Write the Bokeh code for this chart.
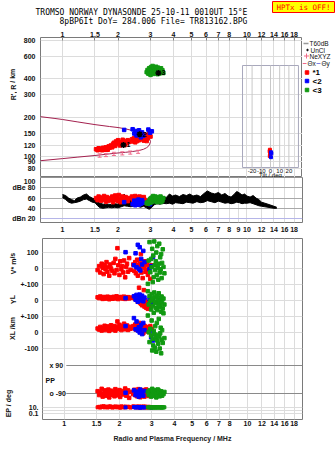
from bokeh.plotting import figure
from bokeh.layouts import column, row
from bokeh.models import Range1d, FixedTicker, LogScale, LinearScale
from bokeh.embed import file_html
from bokeh.resources import INLINE
from bokeh.core.properties import value

# ---------------- data ----------------
freq_ticks_top = [1, 1.5, 2, 3, 4, 5, 6, 7, 8, 10, 12, 14, 16, 18]
freq_labels_top = ["1", "1.5", "2", "3", "4", "5", "6", "7", "8", "10", "12", "14", "16", "18"]
freq_ticks_mid = [1, 1.5, 2, 3, 4, 5, 6, 7, 8, 9, 10, 12, 14, 16, 18]
freq_labels_mid = ["1", "1.5", "2", "3", "4", "5", "6", "7", "8", "9", "10", "12", "14", "16", "18"]
range_ticks = [80, 90, 100, 120, 150, 200, 300, 400, 600, 800]
range_labels = ["80", "90", "100", "120", "150", "200", "300", "400", "600", "800"]
dbe_ticks = [20, 40, 60, 80, 100]
dbe_labels = ["dBn 20", "40", "60", "dBe 80", "100"]
tilt_ticks = [-20, -10, 0, 10, 20]
tilt_labels = ["-20", "-10", "0", "10", "20"]

title_1 = "TROMSO NORWAY   DYNASONDE 25-10-11 0010UT 15\u00b0E"
title_2 = "8pBP6It DoY= 284.006 File= TR813162.BPG"
warning = "HPTx is OFF!"

# model profile (virtual / real height)
upper_f = [0.76, 0.9, 1.0, 1.2, 1.5, 1.8, 2.0, 2.2, 2.4, 2.6, 2.75, 2.85, 2.92, 2.97, 3.0]
upper_h = [203, 197, 193, 185, 176, 170, 167, 163, 158, 153, 148, 143, 138, 134, 130]
lower_f = [0.76, 1.0, 1.2, 1.5, 1.8, 2.0, 2.2, 2.4, 2.6, 2.75, 2.85, 2.92, 2.97, 3.0]
lower_h = [92, 95.5, 98, 101, 104, 105.7, 107, 108.5, 110.5, 113, 116, 119, 124, 130]

# NeXYZ error bars
ne_f = [1.59, 1.72, 1.90, 2.11, 2.33, 2.57]
ne_lo = [98, 99, 101, 102, 103.5, 105]
ne_hi = [104, 105, 107, 108, 109.5, 111]

# echo centroids
cen_f = [2.14, 2.62, 3.31]
cen_h = [122, 148, 446]
cen_lbl = ["1", "2", "3"]

red_f = [1.52, 1.55, 1.57, 1.60, 1.62, 1.64, 1.66, 1.68, 1.70, 1.72,
         1.74, 1.76, 1.78, 1.80, 1.83, 1.86, 1.88, 1.90, 1.93, 1.95,
         1.97, 2.00, 2.02, 2.05, 2.07, 2.10, 2.12, 2.15, 2.18, 2.20,
         2.23, 2.26, 2.30, 2.38, 2.41, 2.44, 2.46, 2.48, 2.50, 2.52,
         2.54, 2.56, 2.58, 2.60, 2.62, 2.64, 2.66, 2.68, 2.70, 2.72,
         2.74, 2.76, 2.78, 2.80, 2.82, 2.84, 2.86, 2.90, 2.95, 3.00]
red_r = [113, 111, 115, 112, 114, 111, 116, 113, 112, 117,
         114, 112, 119, 116, 121, 117, 124, 127, 120, 130,
         124, 133, 127, 121, 129, 124, 134, 128, 122, 131,
         126, 133, 129, 135, 130, 138, 133, 128, 140, 135,
         131, 142, 137, 133, 144, 139, 135, 146, 141, 137,
         143, 132, 148, 139, 136, 145, 131, 138, 150, 142]
red_dbe = [60, 56, 63, 58, 55, 61, 57, 64, 59, 53,
           62, 58, 55, 60, 57, 63, 52, 59, 65, 56,
           61, 54, 66, 58, 52, 60, 63, 57, 55, 62,
           58, 54, 60, 63, 57, 61, 55, 64, 59, 53,
           62, 57, 60, 55, 63, 58, 52, 61, 56, 59,
           54, 62, 57, 52, 55, 53, 50, 51, 54, 52]
red_v = [-10, 15, -25, 30, 5, -35, 20, -5, 40, -20,
         10, -45, 25, 0, -15, 35, -30, 60, -10, 127,
         20, -40, 45, -5, 15, -25, 50, -55, 10, 30,
         -20, 65, -8, 25, -15, 40, -30, 10, 55, -45,
         20, -120, 35, 0, 90, -25, 15, -60, 30, -135,
         5, 45, -20, 25, -10, 35, -40, 15, -65, 20]
red_yl = [20, 15, 25, 18, 10, 22, 14, 19, 12, 24,
          17, 8, 21, 15, 11, 23, 18, 13, 26, 16,
          9, 20, 14, 22, 17, 12, 24, 10, 19, 15,
          21, 13, 18, 16, 23, 10, 27, 5, 19, -8,
          15, 30, -12, 20, -20, 8, -30, 12, -25, -5,
          -38, 2, -15, -45, -10, -28, -52, -20, -35, -12]
red_xl = [25, 18, 35, 12, 30, 20, 42, 15, 28, 38,
          22, 10, 33, 45, 18, 27, 40, 12, 35, 69,
          22, 48, 30, 15, 38, 25, 55, 20, 32, 44,
          16, 36, 24, 40, 28, 50, 18, 35, 45, 22,
          30, 60, 26, 12, 38, 48, 20, 33, -5, 28,
          42, 15, 25, 35, 8, 30, 18, 2, 40, 22]
red_pp = [-75, -100, -85, -60, -110, -92, -70, -105, -80, -95,
          -65, -115, -88, -72, -98, -82, -108, -62, -90, -78,
          -102, -68, -112, -86, -74, -96, -84, -58, -104, -92,
          -70, -118, -80, -94, -66, -100, -86, -76, -108, -90,
          -62, -98, -82, -114, -72, -88, -104, -68, -92, -80,
          -110, -74, -96, -64, -100, -86, -78, -106, -90, -84]
red_ep = [12, 18, 9, 25, 14, 30, 11, 20, 16, 10,
          22, 13, 28, 15, 9, 19, 12, 24, 17, 11,
          21, 14, 8, 26, 13, 18, 10, 23, 15, 12,
          20, 16, 9, 27, 13, 17, 11, 22, 14, 19,
          10, 25, 12, 16, 9, 21, 13, 18, 11, 24,
          15, 10, 20, 12, 17, 9, 14, 19, 11, 13]

blue_f = [2.16, 2.40, 2.45, 2.48, 2.52, 2.55, 2.58, 2.60, 2.63, 2.66, 2.70, 2.74, 2.92, 2.98, 3.05]
blue_r = [160, 162, 150, 157, 145, 155, 149, 159, 147, 140, 153, 144, 161, 152, 156]
blue_dbe = [52, 48, 55, 46, 53, 50, 57, 47, 54, 49, 56, 51, 50, 48, 53]
blue_v = [102, 20, 95, 8, 148, -2, 133, -12, 60, 25, 110, 40, -5, 15, 70]
blue_yl = [15, 27, 5, 35, -8, 20, 37, 0, 12, 30, -5, 18, 8, -20, 10]
blue_xl = [40, 90, 20, 69, 12, 33, 0, 23, 48, -10, 60, 15, 5, -30, -50]
blue_pp = [-85, -70, -100, -92, -78, -110, -88, -65, -96, -82, -104, -74, -90, -80, -98]
blue_ep = [11, 14, 9, 16, 12, 10, 13, 8, 15, 11, 12, 10, 13, 9, 12]

green_f = [2.86, 2.89, 2.92, 2.95, 2.98, 3.00, 3.02, 3.04, 3.06, 3.08,
           3.10, 3.12, 3.14, 3.16, 3.18, 3.20, 3.22, 3.24, 3.26, 3.28,
           3.30, 3.32, 3.34, 3.36, 3.38, 3.40, 3.42, 3.45, 3.48, 3.52]
green_r = [452, 470, 440, 485, 460, 430, 495, 475, 448, 505,
           465, 438, 488, 458, 472, 445, 498, 462, 480, 436,
           490, 455, 470, 442, 478, 460, 485, 450, 468, 445]
green_dbe = [50, 52, 49, 55, 58, 51, 60, 56, 53, 62,
             64, 57, 61, 58, 63, 55, 60, 52, 58, 62,
             56, 59, 53, 60, 57, 63, 52, 58, 55, 60]
green_v = [-96, 50, 165, -23, 60, 8, 123, -85, 81, -54,
           169, 20, -10, 45, 100, -40, 140, 5, -70, 30,
           155, -25, 70, -5, 90, -60, 35, 120, 10, -30]
green_yl = [58, -25, 27, -4, -56, 40, 6, -35, 15, -77,
            50, -15, 22, -45, -8, 30, -60, 10, -20, 45,
            -40, 0, -30, 18, -70, 25, -10, -50, 12, -25]
green_xl = [106, 2, -60, 23, -19, 75, -112, -40, -81, 10,
            -8, -95, 40, -30, -120, 60, -50, -15, -70, 85,
            -25, -100, -5, 30, -130, -45, 15, -65, 120, -35]
green_pp = [-80, -100, -70, -95, -110, -85, -60, -98, -75, -105,
            -90, -68, -102, -82, -115, -78, -92, -64, -100, -88,
            -72, -108, -84, -96, -76, -90, -104, -86, -94, -80]
green_ep = [12, 10, 14, 11, 13, 9, 12, 15, 10, 11,
            13, 12, 9, 14, 11, 12, 10, 13, 11, 12,
            14, 10, 12, 11, 13, 9, 12, 11, 10, 12]

inset_red_tilt = [-0.6, -0.9, -0.4, -0.7]
inset_red_h = [112, 109, 104, 100]
inset_blue_tilt = [0.6, 0.9, 0.5]
inset_blue_h = [107, 105, 98]

# receiver amplitude trace (dBe)
trace_f = [1.00, 1.04, 1.08, 1.12, 1.16, 1.20, 1.25, 1.30, 1.35, 1.40, 1.45, 1.50,
           1.55, 1.60, 1.66, 1.72, 1.78, 1.85, 1.92, 2.00, 2.08, 2.16, 2.25, 2.35,
           2.45, 2.55, 2.65, 2.75, 2.85, 2.95, 3.05, 3.15, 3.25, 3.38, 3.50, 3.65,
           3.80, 3.95, 4.10, 4.30, 4.50, 4.70, 4.90, 5.10, 5.35, 5.60, 5.85, 6.10,
           6.40, 6.70, 7.00, 7.30, 7.60, 7.90, 8.20, 8.50, 8.80, 9.10, 9.40, 9.70,
           10.0, 10.4, 10.8, 11.2, 11.6, 12.0, 12.5, 13.0, 13.5, 14.0, 14.5]
trace_hi = [67, 65, 60, 57, 55, 60, 62, 66, 68, 63, 60, 58,
            52, 50, 48, 47, 48, 47, 49, 48, 55, 68, 58, 56,
            55, 57, 55, 56, 52, 51, 55, 60, 62, 60, 63, 61,
            68, 64, 66, 63, 67, 65, 68, 64, 66, 63, 69, 74,
            70, 68, 71, 66, 69, 64, 62, 67, 73, 70, 66, 68,
            64, 62, 65, 60, 57, 52, 50, 48, 46, 44, 42]
trace_lo = [61, 57, 52, 50, 51, 52, 54, 57, 58, 55, 52, 51,
            45, 41, 40, 41, 42, 41, 42, 41, 43, 45, 44, 43,
            45, 44, 42, 44, 41, 38, 42, 47, 49, 48, 50, 49,
            50, 48, 51, 50, 49, 52, 51, 50, 53, 51, 52, 55,
            53, 51, 54, 52, 50, 51, 49, 50, 52, 51, 49, 50,
            50, 51, 49, 47, 45, 44, 43, 42, 41, 40, 40]

# ---------------- styling helpers ----------------
FONT = "Liberation Sans"
RED, BLUE, GREEN = "#ff0000", "#0000ff", "#119911"
MAROON = "#a3204e"
PINK = "#f06a8a"
GRID = "#dcdcdc"
XR = Range1d(0.76, 20.0)
FW = 262
STRIP = 17
LEFT = 40 - STRIP


def base(w, h, yr, left, right, top, bottom, ylog, xloc, frame_h):
    p = figure(width=w, height=h, x_range=XR, y_range=yr, x_axis_type="log",
               y_axis_type="log" if ylog else "linear", x_axis_location=xloc,
               toolbar_location=None, output_backend="svg", title=None,
               min_border_left=left, min_border_right=right, min_border_top=top,
               min_border_bottom=bottom, background_fill_color="white",
               border_fill_color="white", outline_line_color="#7a7a7a")
    p.extra_x_ranges = {"px": Range1d(0, FW)}
    p.extra_x_scales = {"px": LinearScale()}
    p.extra_y_ranges = {"py": Range1d(frame_h, 0)}
    p.extra_y_scales = {"py": LinearScale()}
    return p


def pane(w, h, x0, x1, y_top, y_bot, top=0, bottom=0):
    # a blank plot whose frame is addressed in page pixel coordinates
    s = figure(width=w, height=h, x_range=Range1d(x0, x1), y_range=Range1d(y_bot, y_top),
               x_axis_location=None, y_axis_location=None, toolbar_location=None,
               output_backend="svg", title=None, min_border_left=0, min_border_right=0,
               min_border_top=top, min_border_bottom=bottom,
               outline_line_color=None, background_fill_color="white",
               border_fill_color="white")
    s.grid.visible = False
    return s


def style_axis(ax, ticks, labels, standoff, tick_in=0):
    ax.ticker = FixedTicker(ticks=ticks)
    ax.major_label_overrides = dict(zip(ticks, labels))
    ax.axis_line_color = None
    ax.major_tick_in = tick_in
    ax.major_tick_out = 0
    ax.major_tick_line_color = "#808080"
    ax.minor_tick_line_color = None
    ax.major_label_standoff = standoff
    ax.major_label_text_font = FONT
    ax.major_label_text_font_size = "7px"
    ax.major_label_text_font_style = "bold"
    ax.major_label_text_color = "#111111"


def txt(p, xs, ys, texts, size="7px", color="#111111", align="center",
        angle=0.0, style="bold", font=FONT, **kw):
    p.text(x=xs, y=ys, text=texts, text_font=value(font), text_font_size=size,
           text_color=color, text_align=align, text_baseline="middle",
           angle=angle, text_font_style=style, **kw)


# ---------------- header ----------------
hdr = pane(335, 26, 0, 335, 0, 26)
hdr.quad(left=272, right=334, top=1, bottom=12, fill_color="#ffff00", line_color="#ff0000")
txt(hdr, [35], [12], [title_1], size="8px", font="DejaVu Sans Mono", style="normal",
    color="black", align="left")
txt(hdr, [59], [20.5], [title_2], size="8px", font="DejaVu Sans Mono", style="normal",
    color="black", align="left")
txt(hdr, [303], [6.8], [warning], size="7.5px", font="DejaVu Sans Mono", style="normal",
    color="#ff0000")

# ---------------- panel 1 : range ----------------
p1 = base(LEFT + FW, 151, Range1d(68, 843), LEFT, 0, 11, 0, True, "above", 140)
p1.extra_x_ranges["tilt"] = Range1d(-250, 34.8)
p1.extra_x_scales["tilt"] = LinearScale()
style_axis(p1.xaxis[0], freq_ticks_top, freq_labels_top, 1, tick_in=3)
style_axis(p1.yaxis[0], range_ticks, range_labels, 5)
p1.xgrid.ticker = FixedTicker(ticks=freq_ticks_top)
p1.ygrid.ticker = FixedTicker(ticks=range_ticks)
p1.grid.grid_line_color = GRID

# inset tilt box
p1.quad(left=-30.4, right=30.4, top=28, bottom=130, x_range_name="tilt",
        y_range_name="py", fill_color=None, line_color="#a8a8bc", line_width=1)
p1.segment(x0=tilt_ticks, y0=[28] * 5, x1=tilt_ticks, y1=[130] * 5,
           x_range_name="tilt", y_range_name="py", line_color="#c8c8c8")
txt(p1, tilt_ticks, [133] * 5, tilt_labels, size="6px", style="normal",
    x_range_name="tilt", y_range_name="py")
txt(p1, [0], [137], ["Tilt / deg"], size="6px", style="normal",
    x_range_name="tilt", y_range_name="py")
p1.scatter(inset_red_tilt, inset_red_h, x_range_name="tilt", marker="square",
           size=3, color=RED)
p1.scatter(inset_blue_tilt, inset_blue_h, x_range_name="tilt", marker="square",
           size=3, color=BLUE)

p1.line(upper_f, upper_h, line_color=MAROON, line_width=1)
p1.line(lower_f, lower_h, line_color=MAROON, line_width=1)
p1.segment(x0=ne_f, y0=ne_lo, x1=ne_f, y1=ne_hi, line_color=PINK, line_width=1)
p1.scatter(ne_f, ne_lo, marker="dash", size=4, color=PINK)
p1.scatter(ne_f, ne_hi, marker="dash", size=4, color=PINK)
p1.scatter(red_f, red_r, marker="square", size=3.5, color=RED)
p1.scatter(blue_f, blue_r, marker="square", size=3.5, color=BLUE)
p1.scatter(green_f, green_r, marker="square", size=3.5, color=GREEN)
p1.scatter(cen_f, cen_h, marker="asterisk", size=6, line_color="black", line_width=1.5)
txt(p1, cen_f, cen_h, cen_lbl, size="7px", color="black", align="left", x_offset=3)

# left strip with rotated axis title (frame = page y 37..177)
s1 = pane(STRIP, 151, 0, STRIP, 37, 177, top=11)
txt(s1, [12.5], [84], ["R', R / km"], size="7px", angle=1.5708)

# legend pane on the right (frame = page x 302..335, y 37..177)
lg = pane(33, 151, 302, 335, 37, 177, top=11)
lg.segment(x0=[303], y0=[43], x1=[308], y1=[43], line_color="#999999", line_width=1.5)
lg.scatter([307], [49.5], marker="circle", size=1.5, color="black")
lg.scatter([306], [55.5], marker="cross", size=5, line_color=PINK, line_width=1)
lg.segment(x0=[302, 316], y0=[63, 63], x1=[306, 320], y1=[63, 63],
           line_color=[PINK, "#8080e0"], line_width=1)
lg.scatter([306.5, 306.5, 306.5], [72, 80.5, 89.5], marker="square",
           size=3.5, color=[RED, BLUE, GREEN])
txt(lg, [309, 310, 309, 307, 321], [43, 49.5, 55.5, 63, 63],
    ["T60dB", "UnCl", "NeXYZ", "\u0398x", "\u0398y"], size="6.5px",
    align="left", style="normal")
txt(lg, [312, 312, 312], [72, 80.5, 89.5], ["*1", "<2", "<3"],
    size="8px", align="left", color="black")

# ---------------- panel 2 : amplitude ----------------
p2 = base(335, 61, Range1d(12.2, 100.3), 40, 33, 0, 16, False, "below", 45)
style_axis(p2.xaxis[0], freq_ticks_mid, freq_labels_mid, 4)
style_axis(p2.yaxis[0], dbe_ticks, dbe_labels, 5)
p2.xgrid.ticker = FixedTicker(ticks=freq_ticks_mid)
p2.xgrid.grid_line_color = GRID
p2.ygrid.ticker = FixedTicker(ticks=[40, 60, 80, 100])
p2.ygrid.grid_line_color = "#a8a8a8"
p2.segment(x0=[0.76], y0=[20], x1=[20.0], y1=[20], line_color="#b4b4e8", line_width=1)
p2.varea(x=trace_f, y1=trace_lo, y2=trace_hi, fill_color="black")
p2.line(trace_f, trace_hi, line_color="black", line_width=1)
p2.line(trace_f, trace_lo, line_color="black", line_width=1)
p2.scatter(red_f, red_dbe, marker="square", size=3.5, color=RED)
p2.scatter(blue_f, blue_dbe, marker="square", size=3.5, color=BLUE)
p2.scatter(green_f, green_dbe, marker="square", size=3.5, color=GREEN)

# ---------------- panel 3 : doppler / position / polarisation ----------------
T3 = 238
p3 = base(LEFT + FW + 33, 213, Range1d(181, 0), LEFT, 33, 0, 32, False, "below", 181)
p3.extra_y_ranges.update({
    "v": Range1d(-943.75, 187.5),
    "yl": Range1d(-743.75, 387.5),
    "xl": Range1d(-543.75, 587.5),
    "pp": Range1d(-257.14, 906.43),
    "ep": Range1d(10 ** (-3.364), 10 ** 62.45),
})
p3.extra_y_scales.update({"v": LinearScale(), "yl": LinearScale(), "xl": LinearScale(),
                          "pp": LinearScale(), "ep": LogScale()})
style_axis(p3.xaxis[0], freq_ticks_top, freq_labels_top, 1)
p3.xaxis.axis_label = "Radio and Plasma Frequency / MHz"
p3.xaxis.axis_label_text_font = FONT
p3.xaxis.axis_label_text_font_size = "7px"
p3.xaxis.axis_label_text_font_style = "bold"
p3.xaxis.axis_label_text_color = "#222222"
p3.xaxis.axis_label_standoff = 6
left_ticks = [14, 30, 46, 62, 78, 94, 110, 169, 174.5]
left_labels = ["100", "0", "+-100", "0", "+-100", "0", "-100", "10.", "0.1"]
style_axis(p3.yaxis[0], left_ticks, left_labels, 4)
p3.xgrid.ticker = FixedTicker(ticks=freq_ticks_top)
p3.ygrid.ticker = FixedTicker(ticks=[14, 30, 46, 62, 78, 94, 110, 169, 172, 174.5])
p3.grid.grid_line_color = GRID
p3.segment(x0=[24, 24], y0=[127, 155], x1=[FW, FW], y1=[127, 155],
           x_range_name="px", y_range_name="py", line_color="#8a8a8a")

for fr, col, vv, yl, xl, pp, ep in [
        (red_f, RED, red_v, red_yl, red_xl, red_pp, red_ep),
        (blue_f, BLUE, blue_v, blue_yl, blue_xl, blue_pp, blue_ep),
        (green_f, GREEN, green_v, green_yl, green_xl, green_pp, green_ep)]:
    p3.scatter(fr, vv, y_range_name="v", marker="square", size=3.5, color=col)
    p3.scatter(fr, yl, y_range_name="yl", marker="square", size=3.5, color=col)
    p3.scatter(fr, xl, y_range_name="xl", marker="square", size=3.5, color=col)
    p3.scatter(fr, pp, y_range_name="pp", marker="square", size=3.5, color=col)
    p3.scatter(fr, ep, y_range_name="ep", marker="square", size=3, color=col)

txt(p3, [7, 3, 7], [365 - T3, 380 - T3, 393 - T3], ["x 90", "PP", "o -90"],
    size="7px", align="left", x_range_name="px", y_range_name="py")

# left strip with rotated sub-panel titles (frame = page y 238..419)
s3 = pane(STRIP, 213, 0, STRIP, 238, 419, bottom=32)
txt(s3, [12.5, 12.5, 12, 8], [262, 299, 326, 403],
    ["V*  m/s", "YL", "XL   /km", "EP / deg"], size="7px", angle=1.5708)

layout = column(row(hdr), row(s1, p1, lg), p2, row(s3, p3))
open("out.html", "w").write(file_html(layout, INLINE, title="Dynasonde ionogram"))
